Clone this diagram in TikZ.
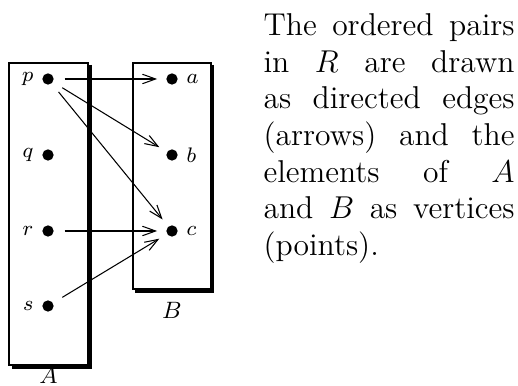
\documentclass[tikz,border=0pt]{standalone}
\usepackage{amsmath}
\usepackage{tikz}
\usetikzlibrary{arrows.meta,positioning}

\tikzset{
  elem/.style={circle,fill=black,inner sep=0pt,minimum size=4.3pt},
  elemlabel/.style={font=\footnotesize,inner sep=0.5pt},
  setlabel/.style={font=\small,inner sep=0pt},
  pairarrow/.style={-{Straight Barb[length=5pt,width=3.6pt]},shorten <=4pt,shorten >=3.3pt},
  setshadow/.style={line width=1.4pt}
}

\begin{document}
\begin{tikzpicture}[x=3.8pt,y=3.8pt]
  \useasboundingbox (0,0) rectangle (51.8,38.5);
  % the two sets, thin frame with a heavy shadow
  \draw (0.9,2.0) rectangle (8.8,32.2);
  \draw[setshadow] (9.0,32.0) -- (9.0,1.8) -- (1.2,1.8);
  \draw (13.3,9.6) rectangle (21.1,32.2);
  \draw[setshadow] (21.25,32.0) -- (21.25,9.4) -- (13.5,9.4);
  \node[setlabel] (labA) at (4.85,1.0) {$A$};
  \node[setlabel] (labB) at (17.2,7.5) {$B$};
  % elements of A
  \node[elem] (p) at (4.8,30.6) {};
  \node[elem] (q) at (4.8,23.0) {};
  \node[elem] (r) at (4.8,15.4) {};
  \node[elem] (s) at (4.8,7.9) {};
  \node[elemlabel,left=2.5pt of p] (lp) {$p$};
  \node[elemlabel,left=2.5pt of q] (lq) {$q$};
  \node[elemlabel,left=2.5pt of r] (lr) {$r$};
  \node[elemlabel,left=2.5pt of s] (ls) {$s$};
  % elements of B
  \node[elem] (a) at (17.2,30.6) {};
  \node[elem] (b) at (17.2,23.0) {};
  \node[elem] (c) at (17.2,15.4) {};
  \node[elemlabel,right=2.5pt of a] (la) {$a$};
  \node[elemlabel,right=2.5pt of b] (lb) {$b$};
  \node[elemlabel,right=2.5pt of c] (lc) {$c$};
  % pairs of R
  \draw[pairarrow] (p) -- (a);
  \draw[pairarrow] (p) -- (b);
  \draw[pairarrow] (p) -- (c);
  \draw[pairarrow] (r) -- (c);
  \draw[pairarrow] (s) -- (c);
  % explanation
  \node[anchor=north west,inner sep=0pt,text width=95.4pt,align=justify,
        font=\fontsize{12pt}{13.95pt}\selectfont] (note) at (26.3,37.2)
    {The ordered pairs\linebreak in $R$ are drawn\linebreak as directed edges\linebreak
     (arrows) and the\linebreak elements of $A$\linebreak and $B$ as vertices\linebreak
     (points).};
\end{tikzpicture}
\end{document}
